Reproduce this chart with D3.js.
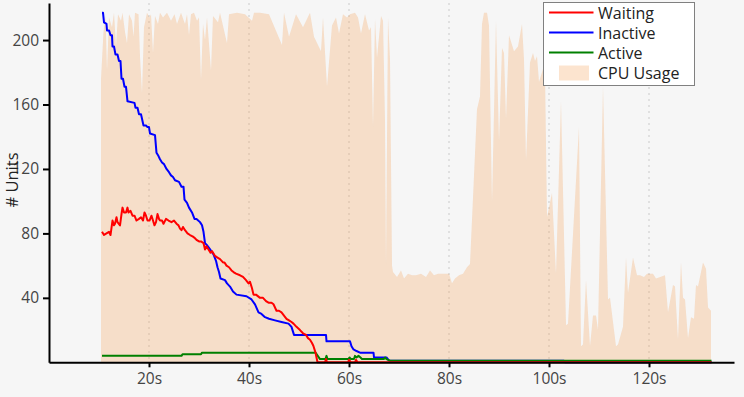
<!DOCTYPE html>
<html lang="en">
<head>
<title>Units and CPU usage</title>
<meta charset="utf-8">
<script src="https://cdnjs.cloudflare.com/ajax/libs/d3/7.8.5/d3.min.js"></script>
<style>
body {
    margin: 0;
    background: #f6f6f6;
}
text {
    font-family: "Open Sans", "Noto Sans", sans-serif;
}
.axis path, .axis line {
    stroke: #000;
    stroke-width: 2;
}
.axis text {
    font-size: 15.5px;
    fill: #444;
}
</style>
</head>

<body>
<div id='chart'></div>
<script>

// [seconds, units]
var waiting = [
    [10.6,81],[11.0,79],[11.5,80],[12.0,81],[12.3,79],[12.7,88],[13.0,85],[13.2,86],[13.5,90],[13.7,87],
    [14.2,85],[14.5,92],[14.7,96],[15.0,93],[15.4,93],[15.7,96],[15.9,93],[16.3,94],[16.7,91],[17.1,91],
    [17.5,88],[18.0,89],[18.4,90],[18.8,88],[19.1,93],[19.4,91],[19.7,88],[20.1,88],[20.5,91],[20.8,88],
    [21.1,85],[21.4,87],[21.7,92],[22.0,89],[22.2,88],[22.6,88],[22.9,86],[23.4,89],[23.9,88],[24.5,87],
    [25.0,88],[25.5,86],[25.9,85],[26.2,83],[26.5,82],[26.8,84],[27.2,82],[27.7,80],[28.2,79],[28.8,78],
    [29.2,77],[29.5,76],[30.0,75],[30.4,75],[30.9,74],[31.2,70],[31.5,72],[31.9,70],[32.3,68],[32.6,69],
    [33.2,66],[33.7,65],[34.2,64],[34.8,62],[35.1,62],[35.5,60],[36.0,59],[36.5,57],[36.9,56],[37.4,55],
    [38.2,54],[38.8,53],[39.4,51],[39.9,49],[40.2,50],[40.6,46],[40.9,42],[41.4,42],[42.2,40],[42.8,40],
    [43.4,38],[43.9,37],[44.5,37],[44.9,36],[45.2,34],[45.5,32],[46.0,32],[46.5,31],[47.0,29],[47.5,27],
    [48.0,26],[48.5,25],[48.9,24],[49.5,22],[50.2,20],[50.8,18],[51.4,17],[51.8,15],[52.2,14],[52.6,12],
    [52.9,10],[53.3,6],[53.5,3],[53.7,0],[55.2,0],[55.4,2],[55.6,0],[59.8,0],[60.0,1.5],[60.4,0],
    [61.2,0],[61.4,1.5],[61.7,0],[132.5,0]
];
var inactive = [
    [10.6,217],[10.8,217],[11.0,211],[11.5,210],[11.6,206],[12.0,206],[12.3,203],[12.6,203],[12.7,196],
    [13.0,196],[13.3,191],[13.7,191],[14.0,187],[14.3,187],[14.5,176],[14.8,176],[15.1,171],[15.4,171],
    [15.7,162],[17.1,161],[17.3,158],[17.7,158],[18.0,154],[18.4,154],[18.9,147],[19.4,147],[19.7,146],
    [20.0,146],[20.2,142],[21.2,141],[21.5,130],[21.9,128],[22.2,126],[22.6,124],[23.0,123],[23.5,120],
    [24.0,118],[24.4,116],[24.8,115],[25.2,113],[26.0,112],[26.5,109],[26.9,109],[27.1,101],[27.6,99],
    [28.0,96],[28.6,93],[29.1,89],[29.5,89],[30.2,87],[30.6,85],[30.9,81],[31.2,74],[31.5,73],[32.0,71],
    [32.9,67],[33.4,63],[33.7,59],[34.0,56],[34.3,52],[35.2,51],[35.6,49],[36.2,47],[36.8,44],[37.5,42],
    [39.5,41],[40.5,39],[41.2,36],[41.9,31],[42.5,30],[43.2,28],[44.0,27],[45.2,26],[46.5,25],[47.9,24],
    [48.5,22],[49.0,17],[55.4,17],[55.5,13],[60.2,13],[60.5,10],[60.9,8],[61.5,7],[62.2,6],[64.9,6],
    [65.0,3],[67.5,3],[68.0,1],[103.0,1],[103.2,0],[132.5,0]
];
var active = [
    [10.6,4],[26.5,4],[26.7,5],[30.4,5],[30.6,6],[53.3,6],[54.2,2],[55.3,2],[55.5,4],[55.7,2],
    [59.9,2],[60.1,3],[60.4,2],[61.0,2],[61.2,4],[61.5,3],[61.9,4],[62.3,3],[62.6,2],[67.0,2],
    [67.2,3],[67.5,2],[68.2,1],[132.5,1]
];
var cpuUsage = [
    [10.4,176],[10.9,205],[11.3,215],[11.6,181],[12.0,214],[12.6,208],[13.0,217],[13.4,196],[13.8,216],
    [14.4,212],[14.7,217],[15.2,205],[15.6,198],[16.0,216],[16.6,212],[16.9,202],[17.2,217],[17.9,216],
    [18.2,190],[18.6,167],[19.0,208],[19.6,217],[20.1,214],[20.4,216],[20.8,192],[21.2,215],[21.8,210],
    [22.2,217],[22.8,214],[23.6,217],[24.4,212],[25.1,216],[25.6,210],[26.4,217],[27.2,210],[27.6,216],
    [28.0,203],[28.4,216],[29.0,217],[29.6,212],[30.0,214],[30.4,175],[30.8,210],[31.2,200],[31.6,214],
    [32.4,181],[32.8,215],[33.8,211],[34.2,217],[35.6,198],[36.0,216],[37.6,217],[39.2,216],[40.6,212],
    [41.0,217],[42.2,217],[44.0,216],[46.6,197],[47.0,217],[48.0,202],[49.4,216],[50.8,208],[52.2,217],
    [53.0,202],[54.4,193],[54.8,214],[55.6,171],[56.6,209],[57.4,214],[58.0,204],[58.8,216],[59.6,214],
    [60.2,216],[61.2,217],[61.8,214],[62.4,204],[63.2,216],[64.0,206],[64.4,208],[64.8,146],[65.2,213],
    [65.6,189],[66.4,215],[66.8,212],[67.2,150],[67.4,59],[67.8,214],[68.2,188],[68.6,60],[68.8,56],
    [69.6,53],[70.4,57],[71.0,52],[71.8,55],[72.6,54],[73.4,54],[74.4,55],[75.4,53],[76.2,57],[77.0,54],
    [77.8,55],[79.0,55],[80.0,55],[80.6,49],[81.2,52],[82.0,54],[82.8,55],[83.6,59],[84.2,61],[85.6,157],
    [86.2,165],[86.6,210],[87.0,217],[87.6,217],[88.0,209],[88.6,99],[89.4,212],[90.0,137],[90.6,195],
    [91.0,192],[91.4,151],[92.0,203],[93.0,193],[93.8,196],[94.6,210],[95.0,188],[95.4,125],[96.2,186],
    [96.8,192],[97.2,187],[97.6,190],[98.0,174],[98.8,182],[99.2,180],[99.6,90],[100.6,105],[101.4,55],
    [102.4,162],[103.4,23],[103.8,24],[106.0,146],[106.4,10],[106.8,11],[107.4,51],[108.2,10],[108.8,29],
    [109.4,29],[109.8,20],[110.8,171],[111.8,39],[112.2,40],[113.4,10],[113.8,11],[114.8,22],[115.4,65],
    [115.8,43],[116.8,65],[117.6,54],[118.2,54],[119.0,53],[119.6,55],[120.8,55],[121.4,52],[123.2,54],
    [123.8,31],[124.8,48],[125.2,47],[125.8,14],[126.4,62],[126.8,40],[127.2,39],[127.8,15],[128.4,28],
    [129.0,27],[129.4,48],[129.8,47],[130.8,62],[131.4,58],[131.8,34],[132.4,32]
];

var xTicks = [20, 40, 60, 80, 100, 120]
var yTicks = [40, 80, 120, 160, 200]
var legendNames = ['Waiting', 'Inactive', 'Active', 'CPU Usage']
var lineColors = ['#ff0000', '#0000ff', '#008000']

var svgWidth = 744, svgHeight = 397,
    plotLeft = 49, plotRight = 734,
    plotTop = 3, plotBottom = 362.3;

var svg = d3.select('#chart')
    .append('svg')
    .attr('width', svgWidth)
    .attr('height', svgHeight)

var x = d3.scaleLinear().domain([0, 137]).range([plotLeft, plotRight])
var y = d3.scaleLinear().domain([0, 223]).range([plotBottom, plotTop])

// dotted vertical grid
svg.append('g').selectAll('line')
    .data(xTicks)
    .enter().append('line')
        .attr('x1', d => x(d)).attr('x2', d => x(d))
        .attr('y1', plotTop).attr('y2', plotBottom)
        .attr('stroke', '#e0e0e0')
        .attr('stroke-width', 2)
        .attr('stroke-dasharray', '2,4')

// cpu area
var area = d3.area()
    .x(d => x(d[0]))
    .y0(y(0))
    .y1(d => y(d[1]))

svg.append('path')
    .datum(cpuUsage)
    .attr('d', area)
    .attr('fill', '#f4a460')
    .attr('fill-opacity', 0.3)

var line = d3.line()
    .x(d => x(d[0]))
    .y(d => y(d[1]))

var drawOrder = [[inactive, lineColors[1]], [active, lineColors[2]], [waiting, lineColors[0]]]
drawOrder.forEach(function(s) {
    svg.append('path')
        .datum(s[0])
        .attr('d', line)
        .attr('fill', 'none')
        .attr('stroke', s[1])
        .attr('stroke-width', 2)
        .attr('stroke-linejoin', 'round')
})

// axes
svg.append('g')
    .attr('class', 'axis')
    .attr('transform', 'translate(0,' + plotBottom + ')')
    .call(d3.axisBottom(x).tickValues(xTicks).tickFormat(d => d + 's').tickSize(5).tickSizeOuter(0).tickPadding(6))

svg.append('g')
    .attr('class', 'axis')
    .attr('transform', 'translate(' + plotLeft + ',0)')
    .call(d3.axisLeft(y).tickValues(yTicks).tickSize(6).tickSizeOuter(0).tickPadding(4))

svg.selectAll('.axis .tick line').attr('stroke-width', 2)

svg.append('text')
    .attr('transform', 'translate(18,180) rotate(-90)')
    .attr('text-anchor', 'middle')
    .attr('font-size', 16.5)
    .attr('fill', '#222')
    .text('# Units')

// legend
var legend = svg.append('g').attr('transform', 'translate(543.5,2.5)')
legend.append('rect')
    .attr('width', 151).attr('height', 83)
    .attr('fill', '#fff')
    .attr('stroke', '#808080')

var items = legend.selectAll('g.item')
    .data(legendNames)
    .enter().append('g')
        .attr('class', 'item')
        .attr('transform', (d, i) => 'translate(0,' + (10 + i * 20) + ')')

items.filter((d, i) => i < 3).append('line')
    .attr('x1', 5.5).attr('x2', 50)
    .attr('stroke', (d, i) => lineColors[i])
    .attr('stroke-width', 2)

items.filter((d, i) => i == 3).append('rect')
    .attr('x', 15.5).attr('y', -7)
    .attr('width', 30).attr('height', 15)
    .attr('fill', '#f4a460')
    .attr('fill-opacity', 0.3)

items.append('text')
    .attr('x', 54.5)
    .attr('y', 6)
    .attr('font-size', 16)
    .attr('fill', '#222')
    .text(d => d)

</script>
</body>
</html>
